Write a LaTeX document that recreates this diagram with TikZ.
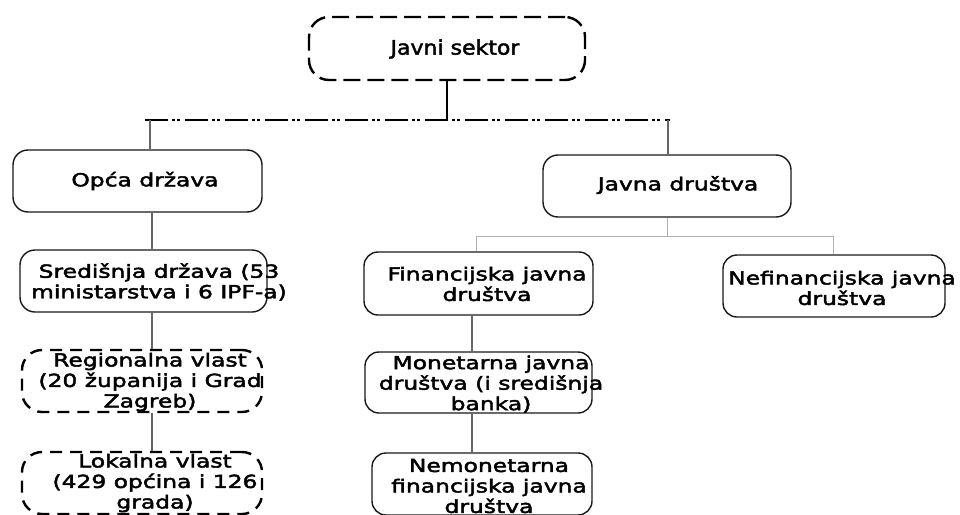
\documentclass[tikz,border=0pt]{standalone}
\usepackage{fontspec}
\newfontfamily\wf[FakeStretch=1.3,FakeBold=2.5]{DejaVu Sans}
\newfontfamily\nf[FakeStretch=1.1,FakeBold=2]{DejaVu Sans}
\usetikzlibrary{calc}
\begin{document}
\begin{tikzpicture}[x=1pt,y=-1pt,
  box/.style={draw=black!90, line width=1.4pt, rounded corners=15pt, inner sep=0pt},
  dbox/.style={draw=black, line width=2.4pt, rounded corners=20pt, dash pattern=on 12pt off 8pt, inner sep=0pt},
  txt/.style={font=\wf\fontsize{18}{20.5}\selectfont, align=center, inner sep=0pt},
  conn/.style={draw=black!60, line width=1.2pt},
  lconn/.style={draw=black!30, line width=1pt},
  bus/.style={draw=black, line width=2pt, dash pattern=on 23pt off 4pt on 3pt off 2pt on 3pt off 5pt},
]
\useasboundingbox[fill=white] (0,0) rectangle (960,514);

% boxes
\node[dbox, dash pattern=on 17pt off 7pt, minimum width=276pt, minimum height=63pt] (js) at (447,48.5) {};
\node[box, minimum width=249pt, minimum height=62pt] (opca) at (137.5,181) {};
\node[box, minimum width=248pt, minimum height=62pt] (jd) at (667,186) {};
\node[box, minimum width=247pt, minimum height=62pt] (sred) at (143.5,281) {};
\node[dbox, minimum width=240pt, minimum height=62pt] (reg) at (142,381) {};
\node[dbox, minimum width=240pt, minimum height=62pt] (lok) at (142,483) {};
\node[box, rounded corners=14pt, minimum width=229pt, minimum height=63pt] (fin) at (478.5,283.5) {};
\node[box, rounded corners=14pt, minimum width=222pt, minimum height=62pt] (nef) at (834,286) {};
\node[box, rounded corners=14pt, minimum width=227pt, minimum height=61pt] (mon) at (478.5,382.5) {};
\node[box, rounded corners=14pt, minimum width=220pt, minimum height=62pt] (nem) at (482,484) {};

% texts
\node[txt, font=\nf\fontsize{20}{22}\selectfont] (jsT) at (455,49) {Javni sektor};
\node[txt] (opcaT) at (145,181) {Opća država};
\node[txt] (jdT) at (678,185) {Javna društva};
\node[txt] (sredT) at (159,282) {Središnja država (53\\ministarstva i 6 IPF-a)};
\node[txt] (regT) at (150,382) {Regionalna vlast\\(20 županija i Grad\\Zagreb)};
\node[txt] (lokT) at (155,483) {Lokalna vlast\\(429 općina i 126\\grada)};
\node[txt] (finT) at (487,284) {Financijska javna\\društva};
\node[txt] (nefT) at (842,288) {Nefinancijska javna\\društva};
\node[txt] (monT) at (491,384) {Monetarna javna\\društva (i središnja\\banka)};
\node[txt] (nemT) at (489,486) {Nemonetarna\\financijska javna\\društva};

% connectors
\coordinate (busL) at (145,120);
\coordinate (busR) at (670,120);
\draw[black, line width=2pt] (js.south) -- (js.south |- busL);
\draw[bus] (busL) -- (busR);
\coordinate (vl) at (150,120);
\coordinate (vr) at (668,120);
\draw[conn] (vl) -- (vl |- opca.north);
\draw[conn] (vr) -- (vr |- jd.north);
\coordinate (cl) at (152,0);
\draw[conn] (cl |- opca.south) -- (cl |- sred.north);
\draw[conn] (cl |- sred.south) -- (cl |- reg.north);
\draw[conn] (cl |- reg.south) -- (cl |- lok.north);
\coordinate (g) at (0,236);
\coordinate (gl) at (476,236);
\coordinate (gr) at (833,236);
\draw[lconn] (jd.south) -- (jd.south |- g);
\draw[lconn] (gl |- fin.north) -- (gl) -- (gr) -- (gr |- nef.north);
\coordinate (cm) at (472,0);
\draw[conn] (cm |- fin.south) -- (cm |- mon.north);
\draw[conn] (cm |- mon.south) -- (cm |- nem.north);
\end{tikzpicture}
\end{document}
